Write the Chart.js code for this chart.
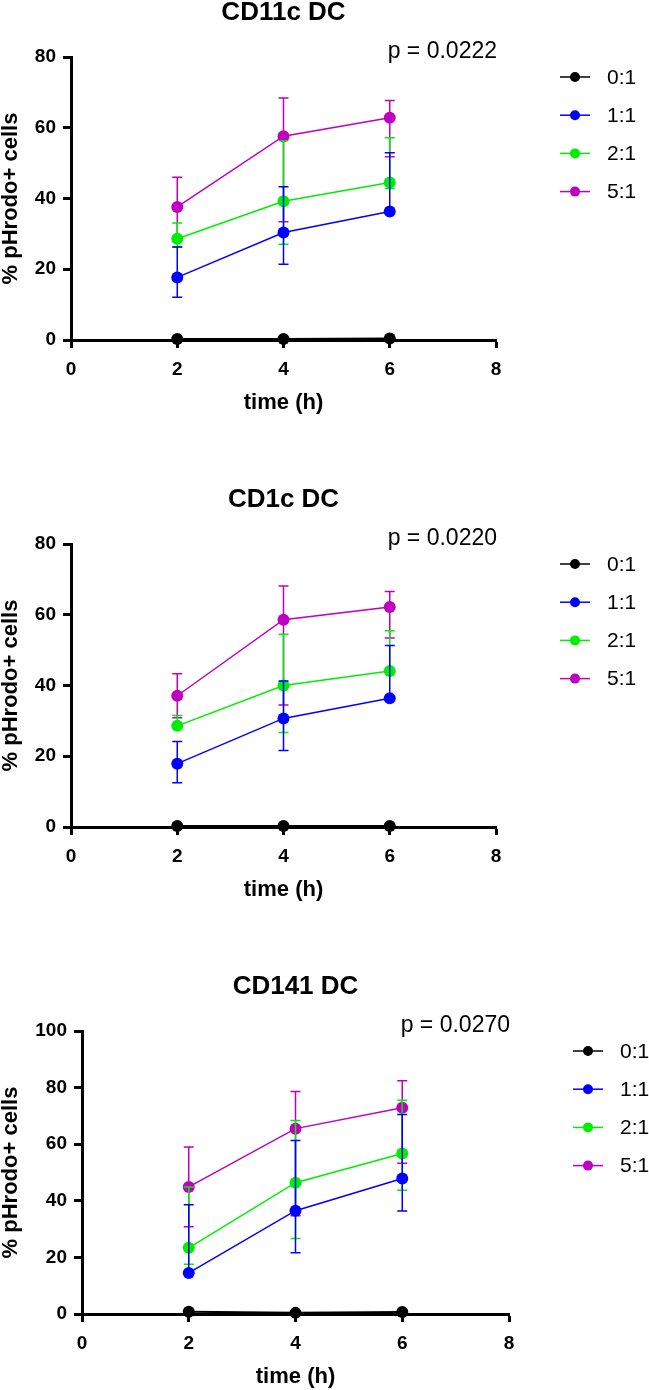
<!DOCTYPE html>
<html>
<head>
<meta charset="utf-8">
<script src="https://cdn.jsdelivr.net/npm/chart.js@4/dist/chart.umd.min.js"></script>
<style>
  html, body { margin: 0; padding: 0; background: #fff; overflow: hidden; }
  .panel { position: absolute; left: 0; width: 649px; height: 420px; }
</style>
</head>
<body>
<div class="panel" style="top:0px"><canvas id="cd11cChart" width="649" height="420"></canvas></div>
<div class="panel" style="top:487px"><canvas id="cd1cChart" width="649" height="420"></canvas></div>
<div class="panel" style="top:974px"><canvas id="cd141Chart" width="649" height="420"></canvas></div>
<script>
// time points (h) and co-culture ratios
const times = [2, 4, 6];
const ratios = ['0:1', '1:1', '2:1', '5:1'];
const seriesColors = ['#000000', '#0000ff', '#00ee00', '#c000c0'];

// CD11c DC - mean, upper and lower error per ratio
const cd11cMean = [[0.3, 0.3, 0.4], [17.7, 30.4, 36.3], [28.6, 39.2, 44.5], [37.6, 57.6, 62.8]];
const cd11cUpper = [[0.3, 0.3, 0.4], [26.3, 43.3, 52.9], [33.1, 56.3, 57.2], [46.0, 68.4, 67.7]];
const cd11cLower = [[0.3, 0.3, 0.4], [12.1, 21.4, 36.3], [26.3, 27.1, 42.8], [29.3, 33.4, 51.8]];

// CD1c DC
const cd1cMean = [[0.3, 0.3, 0.3], [17.9, 30.7, 36.4], [28.6, 40.0, 44.1], [37.1, 58.6, 62.2]];
const cd1cUpper = [[0.3, 0.3, 0.3], [24.2, 41.3, 51.3], [31.5, 54.5, 55.5], [43.3, 68.1, 66.6]];
const cd1cLower = [[0.3, 0.3, 0.3], [12.5, 21.6, 36.4], [28.6, 26.7, 44.1], [30.9, 34.5, 53.4]];

// CD141 DC
const cd141Mean = [[0.8, 0.4, 0.7], [14.5, 36.5, 47.9], [23.4, 46.4, 56.7], [44.9, 65.5, 72.9]];
const cd141Upper = [[0.8, 0.4, 0.7], [38.6, 61.3, 70.5], [44.9, 68.4, 75.5], [59.0, 78.6, 82.4]];
const cd141Lower = [[0.8, 0.4, 0.7], [14.5, 21.6, 36.4], [17.6, 26.7, 43.7], [30.8, 34.7, 53.3]];

const xTicks = [0, 2, 4, 6, 8];
const yTicksSmall = [0, 20, 40, 60, 80];
const yTicksLarge = [0, 20, 40, 60, 80, 100];

const FONT = "'Liberation Sans', Arial, sans-serif";

// error bars, title, p value and legend
const panelDecor = {
  id: 'panelDecor',
  beforeDatasetDraw(chart, args) {
    const ds = chart.data.datasets[args.index];
    const yScale = chart.scales.y;
    const ctx = chart.ctx;
    ctx.save();
    ctx.strokeStyle = ds.borderColor;
    ctx.lineWidth = 1.5;
    args.meta.data.forEach((pt, i) => {
      const mean = ds.data[i].y;
      if (ds.errUp[i] === mean && ds.errLo[i] === mean) return;
      const yUp = yScale.getPixelForValue(ds.errUp[i]);
      const yLo = yScale.getPixelForValue(ds.errLo[i]);
      ctx.beginPath();
      ctx.moveTo(pt.x, yUp);
      ctx.lineTo(pt.x, yLo);
      if (ds.errUp[i] !== mean) {
        ctx.moveTo(pt.x - 5, yUp);
        ctx.lineTo(pt.x + 5, yUp);
      }
      if (ds.errLo[i] !== mean) {
        ctx.moveTo(pt.x - 5, yLo);
        ctx.lineTo(pt.x + 5, yLo);
      }
      ctx.stroke();
    });
    ctx.restore();
  },
  afterDraw(chart, args, opts) {
    const ctx = chart.ctx;
    const area = chart.chartArea;
    ctx.save();
    ctx.fillStyle = '#000';
    // title
    ctx.font = 'bold 26px ' + FONT;
    ctx.textAlign = 'center';
    ctx.textBaseline = 'middle';
    ctx.fillText(opts.title, (area.left + area.right) / 2, area.top - 44);
    // p value
    ctx.font = '23px ' + FONT;
    ctx.textAlign = 'right';
    ctx.fillText(opts.pText, area.right + 1, area.top - 5);
    // legend
    ctx.font = '21px ' + FONT;
    ctx.textAlign = 'left';
    chart.data.datasets.forEach((ds, i) => {
      const y = area.top + 20 + i * 38.2;
      const x = area.right + 64;
      ctx.strokeStyle = ds.borderColor;
      ctx.lineWidth = 1.5;
      ctx.beginPath();
      ctx.moveTo(x, y);
      ctx.lineTo(x + 30, y);
      ctx.stroke();
      ctx.fillStyle = ds.borderColor;
      ctx.beginPath();
      ctx.arc(x + 15, y, 5, 0, Math.PI * 2);
      ctx.fill();
      ctx.fillStyle = '#000';
      ctx.fillText(ds.label, x + 47, y + 1);
    });
    ctx.restore();
  }
};

function makePanel(canvasId, title, pText, means, uppers, lowers, yTicks, axisLeft, axisRight) {
  const datasets = ratios.map((r, s) => ({
    label: r,
    data: times.map((t, i) => ({ x: t, y: means[s][i] })),
    errUp: uppers[s],
    errLo: lowers[s],
    borderColor: seriesColors[s],
    backgroundColor: seriesColors[s],
    borderWidth: s === 0 ? 2 : 1.5,
    pointRadius: 6,
    pointHoverRadius: 6,
    pointBorderWidth: 0,
    clip: false
  }));
  const tickFont = { family: FONT, size: 19, weight: 'bold' };
  const titleFont = { family: FONT, size: 22, weight: 'bold', lineHeight: 1 };
  return new Chart(document.getElementById(canvasId), {
    type: 'line',
    data: { datasets: datasets },
    options: {
      responsive: false,
      animation: false,
      events: [],
      layout: { padding: { left: 0, top: 57, right: 649 - axisRight, bottom: 4 } },
      plugins: {
        legend: { display: false },
        tooltip: { enabled: false },
        panelDecor: { title: title, pText: pText }
      },
      scales: {
        x: {
          type: 'linear',
          min: xTicks[0],
          max: xTicks[xTicks.length - 1],
          afterBuildTicks: scale => { scale.ticks = xTicks.map(v => ({ value: v })); },
          afterFit: scale => { scale.height = 76; },
          border: { display: true, color: '#000', width: 3 },
          grid: { display: true, drawOnChartArea: false, drawTicks: true, tickLength: 8, tickColor: '#000', tickWidth: 3 },
          ticks: { color: '#000', font: tickFont, padding: 10, maxRotation: 0 },
          title: { display: true, text: 'time (h)', color: '#000', font: titleFont, padding: { top: 0, bottom: 2 } }
        },
        y: {
          type: 'linear',
          min: yTicks[0],
          max: yTicks[yTicks.length - 1],
          afterBuildTicks: scale => { scale.ticks = yTicks.map(v => ({ value: v })); },
          afterFit: scale => { scale.width = axisLeft; },
          border: { display: true, color: '#000', width: 3 },
          grid: { display: true, drawOnChartArea: false, drawTicks: true, tickLength: 8, tickColor: '#000', tickWidth: 3 },
          ticks: { color: '#000', font: tickFont, padding: 7 },
          title: { display: true, text: '% pHrodo+ cells', color: '#000', font: titleFont, padding: 0 }
        }
      }
    },
    plugins: [panelDecor]
  });
}

makePanel('cd11cChart', 'CD11c DC', 'p = 0.0222', cd11cMean, cd11cUpper, cd11cLower, yTicksSmall, 71, 496);
makePanel('cd1cChart', 'CD1c DC', 'p = 0.0220', cd1cMean, cd1cUpper, cd1cLower, yTicksSmall, 71, 496);
makePanel('cd141Chart', 'CD141 DC', 'p = 0.0270', cd141Mean, cd141Upper, cd141Lower, yTicksLarge, 82, 509);
</script>
</body>
</html>
